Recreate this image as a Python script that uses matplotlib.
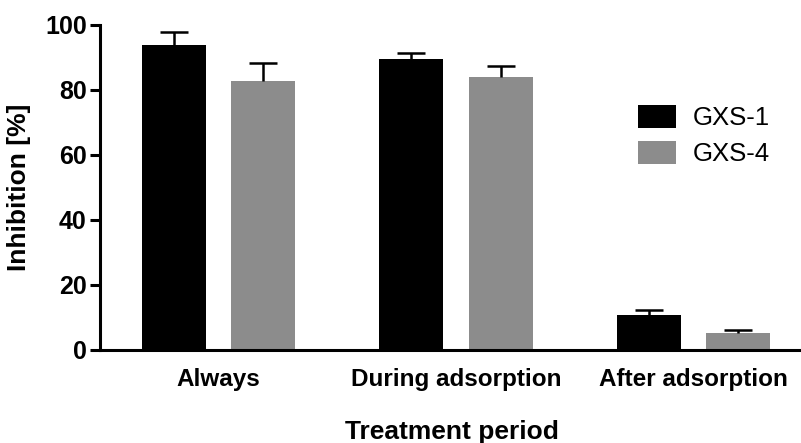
import numpy as np
import matplotlib
matplotlib.use('Agg')
import matplotlib.pyplot as plt

plt.rcParams['font.family'] = ['Liberation Sans', 'DejaVu Sans']

# values
periods = ['Always', 'During adsorption', 'After adsorption']
gxs1 = [93.8, 89.6, 10.9]
gxs1_err = [3.9, 1.7, 1.5]
gxs4 = [82.8, 84.1, 5.3]
gxs4_err = [5.6, 3.4, 0.9]

fig = plt.figure(figsize=(8.01, 4.43), dpi=100)
ax = fig.add_axes([0.1248, 0.21, 0.88, 0.7336])

x = np.arange(len(periods))
w = 0.27
off = 0.188

ekw = dict(ecolor='black', elinewidth=1.8, capthick=1.8)
b1 = ax.bar(x - off, gxs1, w, color='black', label='GXS-1',
            yerr=[np.zeros(3), gxs1_err], capsize=10.4, error_kw=ekw)
b2 = ax.bar(x + off, gxs4, w, color='#8c8c8c', label='GXS-4',
            yerr=[np.zeros(3), gxs4_err], capsize=10.4, error_kw=ekw)
# only the upper caps
for b in (b1, b2):
    b.errorbar.lines[1][0].set_visible(False)

ax.set_xlim(-0.5, 2.47)
ax.set_ylim(0, 100)
ax.set_yticks([0, 20, 40, 60, 80, 100])
ax.set_xticks(x)
ax.set_xticklabels(periods, fontsize=17.5, fontweight='bold')
ax.tick_params(axis='x', length=0, pad=13)
ax.tick_params(axis='y', length=7.5, width=2.2, labelsize=18, pad=2)
for lab in ax.get_yticklabels():
    lab.set_fontweight('bold')

for s in ['top', 'right']:
    ax.spines[s].set_visible(False)
for s in ['left', 'bottom']:
    ax.spines[s].set_linewidth(2.2)

ax.set_ylabel('Inhibition [%]', fontsize=19, fontweight='bold', labelpad=10)
ax.set_xlabel('Treatment period', fontsize=19, fontweight='bold', labelpad=21)

ax.legend(loc='upper left', bbox_to_anchor=(0.73, 0.825), frameon=False,
          fontsize=18.5, handlelength=1.5, handleheight=1.0, handletextpad=0.65,
          labelspacing=0.4)

fig.savefig('out.png', dpi=100)
